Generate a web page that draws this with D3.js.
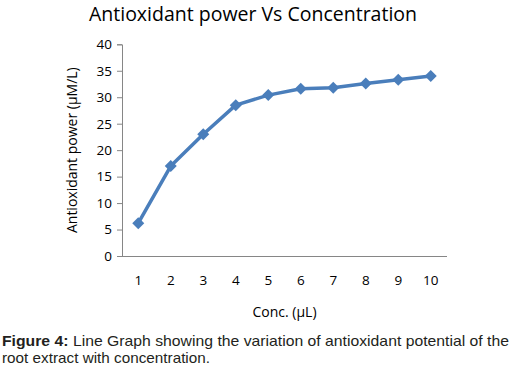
<!DOCTYPE html>
<html><head><meta charset="utf-8">
<script src="https://cdn.jsdelivr.net/npm/d3@7"></script>
<style>
body{margin:0;background:#fff;}
svg{display:block;}
</style></head><body>
<svg id="c" width="516" height="370"></svg>
<script>
const categories = ["1","2","3","4","5","6","7","8","9","10"];
const values = [6.2, 17.0, 23.0, 28.5, 30.4, 31.6, 31.8, 32.6, 33.3, 34.0];
const yTicks = [0,5,10,15,20,25,30,35,40];

const svg = d3.select("#c");
const m = {l:122, r:447, t:44.3, b:256};
const font = "'Open Sans', 'Noto Sans', sans-serif";

const x = d3.scaleBand().domain(categories).range([m.l, m.r]);
const y = d3.scaleLinear().domain([0,40]).range([m.b, m.t]);

// title
svg.append("text").attr("x", 253).attr("y", 21).attr("text-anchor","middle")
  .attr("font-family", font).attr("font-size", 19.5).attr("fill","#000")
  .text("Antioxidant power Vs Concentration");

// y axis
const ya = svg.append("g").attr("transform",`translate(${m.l},0)`)
  .call(d3.axisLeft(y).tickValues(yTicks).tickSize(5).tickPadding(5));
ya.select(".domain").attr("stroke","#868686");
ya.selectAll(".tick line").attr("stroke","#868686");
ya.selectAll("text").attr("font-family", font).attr("font-size", 13.5).attr("fill","#000");

// x axis
const xa = svg.append("g").attr("transform",`translate(0,${m.b})`)
  .call(d3.axisBottom(x).tickSize(0).tickPadding(19));
xa.select(".domain").attr("stroke","#868686").attr("d", `M${m.l},0.5H${m.r}`);
xa.selectAll("text").attr("font-family", font).attr("font-size", 13.5).attr("fill","#000");

// axis titles
svg.append("text").attr("transform",`translate(77,${(m.t+m.b)/2}) rotate(-90)`)
  .attr("text-anchor","middle").attr("font-family", font).attr("font-size", 14).attr("fill","#000")
  .text("Antioxidant power (µM/L)");
svg.append("text").attr("x", (m.l+m.r)/2 - 0).attr("y", 317).attr("text-anchor","middle")
  .attr("font-family", font).attr("font-size", 14).attr("fill","#000")
  .text("Conc. (µL)");

// line
const line = d3.line().x((d,i)=>x(categories[i]) + x.bandwidth()/2).y(d=>y(d));
svg.append("path").datum(values).attr("d", line).attr("fill","none")
  .attr("stroke","#4a7ebb").attr("stroke-width",3.5).attr("stroke-linejoin","round");
svg.selectAll(".pt").data(values).enter().append("path")
  .attr("transform",(d,i)=>`translate(${x(categories[i]) + x.bandwidth()/2},${y(d)})`)
  .attr("d","M0,-6L6,0L0,6L-6,0Z").attr("fill","#4a7ebb");

// caption
const cap = svg.append("text").attr("font-family","'Liberation Sans', Arial, sans-serif")
  .attr("font-size", 14.6).attr("fill","#231f20");
const l1 = cap.append("tspan").attr("x", 2).attr("y", 346).attr("textLength", 507).attr("lengthAdjust","spacingAndGlyphs");
l1.append("tspan").attr("font-weight","bold").text("Figure 4:");
l1.append("tspan").text(" Line Graph showing the variation of antioxidant potential of the");
cap.append("tspan").attr("x", 2).attr("y", 362.5).attr("textLength", 208).attr("lengthAdjust","spacingAndGlyphs")
  .text("root extract with concentration.");
</script>
</body></html>
